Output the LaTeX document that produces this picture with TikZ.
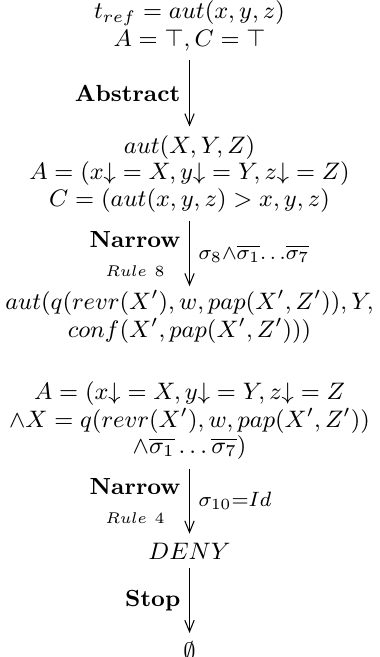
\RequirePackage{fix-cm}
\documentclass[tikz,border=0pt]{standalone}
\usetikzlibrary{positioning,arrows.meta}
\tikzset{
  blk/.style={align=center, inner sep=3.33pt, font={\fontsize{9.2}{2}\selectfont}},
  arr/.style={-{Straight Barb[length=4.4pt,width=3.6pt]}, line width=0.4pt},
  lab/.style={font=\small, align=center, inner sep=3.33pt},
  sig/.style={font={\fontsize{8}{9.6}\selectfont}, inner sep=3.33pt},
}
\begin{document}
\begin{tikzpicture}
\useasboundingbox (-73.15pt,-3.2pt) rectangle (73.15pt,-256.8pt);
\node[blk, anchor=north] (b1) at (0,0) {$t_{ref} = aut(x,y,z)$\\[0.8pt] $A=\top, C=\top$};
\node[blk, below=25.5pt of b1] (b2) {$aut(X,Y,Z)$\\ $A=(x{\downarrow}=X, y{\downarrow}=Y, z{\downarrow}=Z)$\\ $C=(aut(x,y,z)>x,y,z)$};
\node[blk, inner ysep=1.4pt, below=25pt of b2] (b3) {$aut(q(revr(X'),w,pap(X',Z')),Y,$\\ $conf(X',pap(X',Z')))$};
\node[blk, below=9.5pt of b3] (b4) {$A=(x{\downarrow}=X,y{\downarrow}=Y,z{\downarrow}=Z$\\ $\wedge X=q(revr(X'),w,pap(X',Z'))$\\ $\wedge\overline{\sigma_1}\ldots\overline{\sigma_7})$};
\node[blk, below=25pt of b4] (deny) {$DENY$};
\node[blk, below=25pt of deny] (empty) {$\emptyset$};
\draw[arr] (b1) -- node[lab, left] {\textbf{Abstract}} (b2);
\draw[arr] (b2) -- node[lab, left] {\textbf{Narrow}\\ $\scriptstyle Rule\ 8$} node[sig, right] {$\sigma_8{\wedge}\overline{\sigma_1}{\ldots}\overline{\sigma_7}$} (b3);
\draw[arr] (b4) -- node[lab, left] {\textbf{Narrow}\\ $\scriptstyle Rule\ 4$} node[sig, right] {$\sigma_{10}{=}Id$} (deny);
\draw[arr] (deny) -- node[lab, left] {\textbf{Stop}} (empty);
\end{tikzpicture}
\end{document}
